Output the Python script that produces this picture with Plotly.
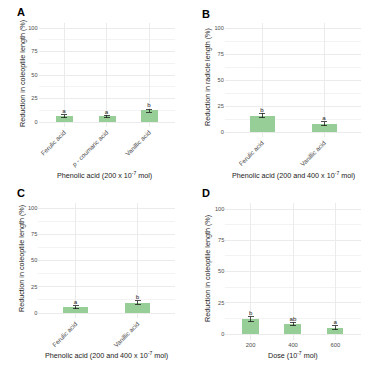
import plotly.graph_objects as go

# ---- data ----
a_cats = ["Ferulic acid", "<i>p</i> - coumaric acid", "Vanillic acid"]
a_vals = [6, 6, 12]
a_err = [1.5, 1.3, 1.8]
a_lett = ["a", "a", "b"]

b_cats = ["Ferulic acid", "Vanillic acid"]
b_vals = [16, 8]
b_err = [2.2, 1.8]
b_lett = ["b", "a"]

c_cats = ["Ferulic acid", "Vanillic acid"]
c_vals = [5.5, 10]
c_err = [1.3, 1.5]
c_lett = ["a", "b"]

d_cats = ["200", "400", "600"]
d_vals = [12, 8, 5]
d_err = [2.0, 1.5, 1.5]
d_lett = ["b", "ab", "a"]

y_ticks = [0, 25, 50, 75, 100]

BAR = "#97CD97"
FONT = "Liberation Sans"
GRID = "#EBEBEB"
W = 375.0
H = 375.0

panels = [
    dict(cats=a_cats, vals=a_vals, err=a_err, lett=a_lett, x=(38.5, 174.5), y=(23.3, 126.7), rot=True,
         yt="Reduction in coleoptile length (%)", xt="Phenolic acid (200 x 10<sup>-7</sup> mol)",
         tag="A", tagpos=(15, 12), ytpos=(22, 74), xtpos=(104, 175)),
    dict(cats=b_cats, vals=b_vals, err=b_err, lett=b_lett, x=(224.8, 361.2), y=(22.8, 137.2), rot=True,
         yt="Reduction in radicle length (%)", xt="Phenolic acid (200 and 400 x 10<sup>-7</sup> mol)",
         tag="B", tagpos=(200, 14), ytpos=(207, 77), xtpos=(293, 175)),
    dict(cats=c_cats, vals=c_vals, err=c_err, lett=c_lett, x=(38.3, 174.7), y=(202.75, 318.25), rot=True,
         yt="Reduction in coleoptile length (%)", xt="Phenolic acid (200 and 400 x 10<sup>-7</sup> mol)",
         tag="C", tagpos=(15, 193), ytpos=(21, 259), xtpos=(106, 355)),
    dict(cats=d_cats, vals=d_vals, err=d_err, lett=d_lett, x=(225.3, 360.7), y=(202.75, 340.25), rot=False,
         yt="Reduction in coleoptile length (%)", xt="Dose (10<sup>-7</sup> mol)",
         tag="D", tagpos=(200, 193), ytpos=(207, 269), xtpos=(293, 355)),
]

fig = go.Figure()
annotations = []
layout = {}
for i, p in enumerate(panels, start=1):
    xa = "x" if i == 1 else f"x{i}"
    ya = "y" if i == 1 else f"y{i}"
    xkey = "xaxis" if i == 1 else f"xaxis{i}"
    ykey = "yaxis" if i == 1 else f"yaxis{i}"
    n = len(p["cats"])
    fig.add_trace(go.Bar(
        x=p["cats"], y=p["vals"], width=0.4, marker=dict(color=BAR, line=dict(width=0)),
        error_y=dict(type="data", array=p["err"], color="#222222", thickness=0.8, width=3),
        xaxis=xa, yaxis=ya, showlegend=False, hoverinfo="skip"))
    fig.add_trace(go.Scatter(
        x=p["cats"], y=[v + e for v, e in zip(p["vals"], p["err"])], mode="text",
        text=p["lett"], textposition="top center",
        textfont=dict(family=FONT, size=6.2, color="#222222"),
        xaxis=xa, yaxis=ya, showlegend=False, hoverinfo="skip"))
    layout[xkey] = dict(
        domain=[p["x"][0] / W, p["x"][1] / W], anchor=ya, range=[-0.6, n - 0.4],
        type="category", showgrid=True, gridcolor=GRID, gridwidth=0.6, zeroline=False,
        showline=False, ticks="", tickangle=-45 if p["rot"] else 0,
        tickfont=dict(family=FONT, size=6.3 if p["rot"] else 5.8, color="#4D4D4D"),
        fixedrange=True)
    layout[ykey] = dict(
        domain=[(H - p["y"][1]) / H, (H - p["y"][0]) / H], anchor=xa, range=[-5, 105],
        tickvals=y_ticks, showgrid=True, gridcolor=GRID, gridwidth=0.6, zeroline=False,
        showline=False, ticks="", tickfont=dict(family=FONT, size=5.6, color="#4D4D4D"),
        minor=dict(dtick=12.5, tick0=12.5, showgrid=True, gridcolor="#F3F3F3", gridwidth=0.4),
        fixedrange=True)
    annotations.append(dict(
        text=f"<b>{p['tag']}</b>", x=p["tagpos"][0] / W, y=1 - p["tagpos"][1] / H,
        xref="paper", yref="paper", xanchor="left", yanchor="middle", showarrow=False,
        font=dict(family=FONT, size=11, color="black")))
    annotations.append(dict(
        text=p["yt"], x=p["ytpos"][0] / W, y=1 - p["ytpos"][1] / H, textangle=-90,
        xref="paper", yref="paper", xanchor="center", yanchor="middle", showarrow=False,
        font=dict(family=FONT, size=7.2, color="#222222")))
    annotations.append(dict(
        text=p["xt"], x=p["xtpos"][0] / W, y=1 - p["xtpos"][1] / H,
        xref="paper", yref="paper", xanchor="center", yanchor="middle", showarrow=False,
        font=dict(family=FONT, size=7.2, color="#222222")))

fig.update_layout(
    width=375, height=375, margin=dict(l=0, r=0, t=0, b=0),
    paper_bgcolor="white", plot_bgcolor="white", bargap=0,
    annotations=annotations, **layout)

fig.write_html("out.html", include_plotlyjs=True, config={"displayModeBar": False},
               post_script="document.body.style.margin='0';document.body.style.padding='0';")
